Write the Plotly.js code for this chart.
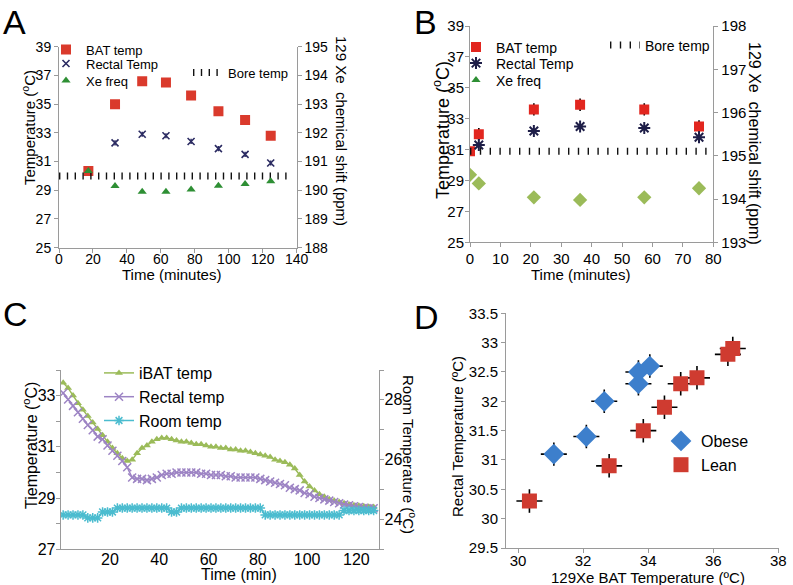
<!DOCTYPE html>
<html><head><meta charset="utf-8">
<script src="https://cdn.plot.ly/plotly-3.0.1.min.js"></script>
<style>html,body{margin:0;padding:0;background:#fff}#chart{width:793px;height:585px}</style>
</head><body><div id="chart"></div>
<script>
// ---------- Panel A ----------
const timeA = [17.3, 33, 49, 63, 77.8, 93.9, 109.6, 124.7];
const batA = [30.35, 35.0, 36.6, 36.5, 35.6, 34.5, 33.9, 32.8];
const rectalTimeA = [33, 49, 63, 77.8, 93.9, 109.6, 124.7];
const rectalA = [32.3, 32.9, 32.8, 32.4, 31.9, 31.5, 30.9];
const rectalErrA = [0.18, 0.18, 0.18, 0.18, 0.18, 0.18, 0.18];
const xeA = [190.67, 190.15, 189.95, 189.95, 190.03, 190.16, 190.22, 190.31];
const boreTimeA = [0, 136];
const boreA = [30.0, 30.0];

// ---------- Panel B ----------
const timeB = [0, 2.9, 21, 36.2, 57.3, 75.3];
const batB = [30.9, 32.0, 33.6, 33.9, 33.6, 32.5];
const batErrB = [0, 0.4, 0.4, 0.4, 0.4, 0.4];
const rectalTimeB = [2.9, 21, 36.2, 57.3, 75.3];
const rectalB = [31.3, 32.2, 32.5, 32.4, 31.8];
const xeB = [194.56, 194.36, 194.04, 193.98, 194.04, 194.25];
const boreTimeB = [0, 79];
const boreB = [30.9, 30.9];

// ---------- Panel C ----------
const timeC = [1,3,5,7,9,11,13,15,17,19,21,23,25,27,29,31,33,35,37,39,41,43,45,47,49,51,53,55,57,59,61,63,65,67,69,71,73,75,77,79,81,83,85,87,89,91,93,95,97,99,101,103,105,107,109,111,113,115,117,119,121,123,125,127];
const ibatC = [33.5,33.3,33.0,32.7,32.45,32.2,31.95,31.7,31.45,31.2,
  30.95,30.75,30.55,30.45,30.5,30.75,30.95,31.05,31.2,31.3,
  31.35,31.35,31.3,31.25,31.2,31.2,31.15,31.1,31.1,31.05,
  31.0,31.0,30.95,30.95,30.9,30.9,30.85,30.85,30.8,30.75,
  30.7,30.65,30.6,30.5,30.45,30.4,30.3,30.15,29.9,29.65,
  29.45,29.3,29.15,29.05,28.95,28.9,28.85,28.8,28.75,28.72,
  28.7,28.68,28.66,28.65];
const rectalC = [33.1,32.85,32.6,32.35,32.1,31.85,31.65,31.4,31.3,31.05,
  30.85,30.65,30.45,30.2,29.8,29.75,29.75,29.7,29.75,29.8,
  29.9,29.95,29.95,30.0,30.0,30.0,30.0,30.0,29.95,29.95,
  29.9,29.9,29.9,29.85,29.85,29.8,29.8,29.8,29.8,29.8,
  29.75,29.7,29.65,29.6,29.55,29.5,29.4,29.35,29.3,29.2,
  29.15,29.05,29.0,28.95,28.9,28.85,28.8,28.75,28.72,28.68,
  28.65,28.62,28.6,28.6];
const roomC = [24.15,24.15,24.15,24.15,24.15,24.05,24.05,24.05,24.25,24.25,
  24.25,24.38,24.38,24.38,24.38,24.38,24.38,24.38,24.38,24.38,
  24.38,24.38,24.25,24.25,24.38,24.38,24.38,24.38,24.38,24.38,
  24.38,24.38,24.38,24.38,24.38,24.38,24.38,24.38,24.38,24.38,
  24.38,24.15,24.15,24.15,24.15,24.15,24.15,24.15,24.15,24.15,
  24.15,24.15,24.15,24.15,24.15,24.15,24.15,24.3,24.3,24.3,
  24.3,24.3,24.3,24.3];

// ---------- Panel D ----------
const obeseX = [31.1, 32.1, 32.65, 33.7, 33.7, 34.05];
const obeseY = [31.1, 31.4, 32.0, 32.3, 32.5, 32.6];
const leanX = [30.35, 32.8, 33.85, 34.5, 35.0, 35.5, 36.45, 36.6];
const leanY = [30.3, 30.9, 31.5, 31.9, 32.3, 32.4, 32.8, 32.9];
const errXD = 0.4;
const errYD = 0.2;

const W = 793, H = 585;
const P = px => px / W;
const Q = py => 1 - py / H;

const traces = [
  // A
  {x: timeA, y: batA, xaxis:'x', yaxis:'y', mode:'markers', name:'BAT temp', legend:'legend',
   marker:{symbol:'square', size:10, color:'#da3a2c'}},
  {x: rectalTimeA, y: rectalA, xaxis:'x', yaxis:'y', mode:'markers', name:'Rectal Temp', legend:'legend7',
   marker:{symbol:'x-thin-open', size:7, color:'#2b2b62', line:{width:1.6, color:'#2b2b62'}},
   error_y:{type:'data', array:rectalErrA, visible:true, width:0, thickness:1.5, color:'#2b2b62'}},
  {x: timeA, y: xeA, xaxis:'x', yaxis:'y2', mode:'markers', name:'Xe freq', legend:'legend8',
   marker:{symbol:'triangle-up', size:8, color:'#2e8f34'}},
  {x: boreTimeA, y: boreA, xaxis:'x', yaxis:'y', mode:'lines', name:'Bore temp', legend:'legend2',
   line:{color:'#111', width:7, dash:'1.4px,6.4px'}},
  // B
  {x: timeB, y: batB, xaxis:'x2', yaxis:'y3', mode:'markers', name:'BAT temp', legend:'legend3',
   marker:{symbol:'square', size:10, color:'#e2261f'},
   error_y:{type:'data', array:batErrB, visible:true, width:0, thickness:1.6, color:'#000'}},
  {x: rectalTimeB, y: rectalB, xaxis:'x2', yaxis:'y3', mode:'markers', name:'Rectal Temp', legend:'legend9',
   marker:{symbol:'asterisk-open', size:10, color:'#1e1e48', line:{width:2, color:'#1e1e48'}}},
  {x: [null], y: [null], xaxis:'x2', yaxis:'y4', mode:'markers', name:'Xe freq', legend:'legend10',
   marker:{symbol:'triangle-up', size:8, color:'#2e8f34'}},
  {x: timeB, y: xeB, xaxis:'x2', yaxis:'y4', mode:'markers', name:'Xe freq', showlegend:false,
   marker:{symbol:'diamond', size:11, color:'#9bbb59'}},
  {x: boreTimeB, y: boreB, xaxis:'x2', yaxis:'y3', mode:'lines', name:'Bore temp', legend:'legend4',
   line:{color:'#111', width:7, dash:'1.4px,8.4px'}},
  // C
  {x: timeC, y: ibatC, xaxis:'x3', yaxis:'y5', mode:'lines+markers', name:'iBAT temp', legend:'legend5',
   line:{color:'#9bbb59', width:1.5}, marker:{symbol:'triangle-up', size:7, color:'#9bbb59'}},
  {x: timeC, y: rectalC, xaxis:'x3', yaxis:'y5', mode:'lines+markers', name:'Rectal temp', legend:'legend5',
   line:{color:'#9d84c4', width:1.5}, marker:{symbol:'x-thin-open', size:8, color:'#9d84c4', line:{width:1.5, color:'#9d84c4'}}},
  {x: timeC, y: roomC, xaxis:'x3', yaxis:'y6', mode:'lines+markers', name:'Room temp', legend:'legend5',
   line:{color:'#4bbccf', width:1.5}, marker:{symbol:'asterisk-open', size:8, color:'#4bbccf', line:{width:1.5, color:'#4bbccf'}}},
  // D
  {x: obeseX, y: obeseY, xaxis:'x4', yaxis:'y7', mode:'markers', name:'Obese', legend:'legend6',
   marker:{symbol:'diamond', size:16, color:'#3d7fcc'},
   error_x:{type:'constant', value:errXD, width:0, thickness:1.6, color:'#000'},
   error_y:{type:'constant', value:errYD, width:0, thickness:1.6, color:'#000'}},
  {x: leanX, y: leanY, xaxis:'x4', yaxis:'y7', mode:'markers', name:'Lean', legend:'legend6',
   marker:{symbol:'square', size:15, color:'#cf3b30'},
   error_x:{type:'constant', value:errXD, width:0, thickness:1.6, color:'#000'},
   error_y:{type:'constant', value:errYD, width:0, thickness:1.6, color:'#000'}}
];

function ax(extra) {
  return Object.assign({showgrid:false, zeroline:false, showline:true, linecolor:'#9a9a9a', linewidth:1,
    ticks:'outside', ticklen:4, tickcolor:'#9a9a9a', tickfont:{size:14, color:'#000'}}, extra);
}

function leg(x, y, size) {
  return {x:P(x), y:Q(y), xanchor:'left', yanchor:'top', bgcolor:'rgba(0,0,0,0)', borderwidth:0,
    font:{size:size, color:'#000'}, itemwidth:30};
}

function ann(text, x, y, size, angle) {
  return {text:text, x:P(x), y:Q(y), xref:'paper', yref:'paper', showarrow:false,
    xanchor:'center', yanchor:'middle', textangle:angle || 0, font:{size:size, color:'#000'}};
}

const layout = {
  width: W, height: H,
  margin: {l:0, r:0, t:0, b:0},
  paper_bgcolor:'#fff', plot_bgcolor:'rgba(0,0,0,0)',
  font: {family:'Liberation Sans, Arial, sans-serif', color:'#000'},
  showlegend: true,
  // A
  xaxis: ax({domain:[P(59), P(296.7)], range:[0,140], dtick:20, anchor:'y', ticklabelstandoff:-6}),
  yaxis: ax({domain:[Q(247.7), Q(46.7)], range:[25,39], tick0:25, dtick:2, anchor:'x'}),
  yaxis2: ax({overlaying:'y', side:'right', anchor:'x', range:[188,195], dtick:1}),
  // B
  xaxis2: ax({domain:[P(470), P(713.3)], range:[0,80], dtick:10, anchor:'y3', tickfont:{size:15}, ticklabelstandoff:-1}),
  yaxis3: ax({domain:[Q(242.3), Q(26)], range:[25,39], tick0:25, dtick:2, anchor:'x2', tickfont:{size:15}, ticklabelstandoff:-2}),
  yaxis4: ax({overlaying:'y3', side:'right', anchor:'x2', range:[193,198], dtick:1, tickfont:{size:15}}),
  // C
  xaxis3: ax({domain:[P(60.7), P(379.3)], range:[0,129.3], tickvals:[20,40,60,80,100,120], ticks:'', anchor:'y5', tickfont:{size:16}, ticklabelstandoff:-5}),
  yaxis5: ax({domain:[Q(549.3), Q(370)], range:[27,34], tickvals:[27,29,31,33], anchor:'x3', tickfont:{size:16}, ticklabelstandoff:-3,
    minor:{tickmode:'linear', tick0:27, dtick:1, ticks:'outside', ticklen:4, tickcolor:'#9a9a9a'}}),
  yaxis6: ax({overlaying:'y5', side:'right', anchor:'x3', range:[23,29], tickvals:[24,26,28], tickfont:{size:16}, ticklabelstandoff:-3,
    minor:{tickmode:'linear', tick0:23, dtick:1, ticks:'outside', ticklen:4, tickcolor:'#9a9a9a'}}),
  // D
  xaxis4: ax({domain:[P(506), P(779.3)], range:[29.63,38.03], tickvals:[30,32,34,36,38], anchor:'y7', tickfont:{size:15}, ticklabelstandoff:-5}),
  yaxis7: ax({domain:[Q(548), Q(313.3)], range:[29.5,33.5], dtick:0.5, anchor:'x4', tickfont:{size:15}}),
  legend: leg(46, 34.5, 13),
  legend7: leg(46, 48.5, 13),
  legend8: leg(46, 65.5, 13),
  legend2: leg(188, 57.5, 13),
  legend3: leg(456, 31.5, 14),
  legend9: leg(456, 47.5, 14),
  legend10: leg(456, 64.5, 14),
  legend4: leg(605, 29.5, 14),
  legend5: leg(99, 356, 16),
  legend6: leg(661, 424, 16),
  annotations: [
    ann('A', 14, 22, 34), ann('B', 425, 22, 34), ann('C', 15, 314, 34), ann('D', 426, 317, 34),
    ann('Temperature (<sup>o</sup>C)', 28, 128, 15, -90),
    ann('Time (minutes)', 171, 274, 15),
    ann('129 Xe  chemical shift (ppm)', 342, 131, 15, 90),
    ann('Temperature (<sup>o</sup>C)', 441, 130, 18, -90),
    ann('Time (minutes)', 580, 274, 15),
    ann('129 Xe  chemical shift (ppm)', 755, 143, 16, 90),
    ann('Tiemperature (<sup>o</sup>C)', 30, 446, 16, -90),
    ann('Time (min)', 239, 574, 16),
    ann('Room Temperature (<sup>o</sup>C)', 410, 454, 15, 90),
    ann('Rectal Temperature (ºC)', 457, 437, 15, -90),
    ann('129Xe BAT Temperature (ºC)', 648, 577, 15)
  ]
};

Plotly.newPlot('chart', traces, layout, {displayModeBar:false, staticPlot:true});
</script>
</body></html>
